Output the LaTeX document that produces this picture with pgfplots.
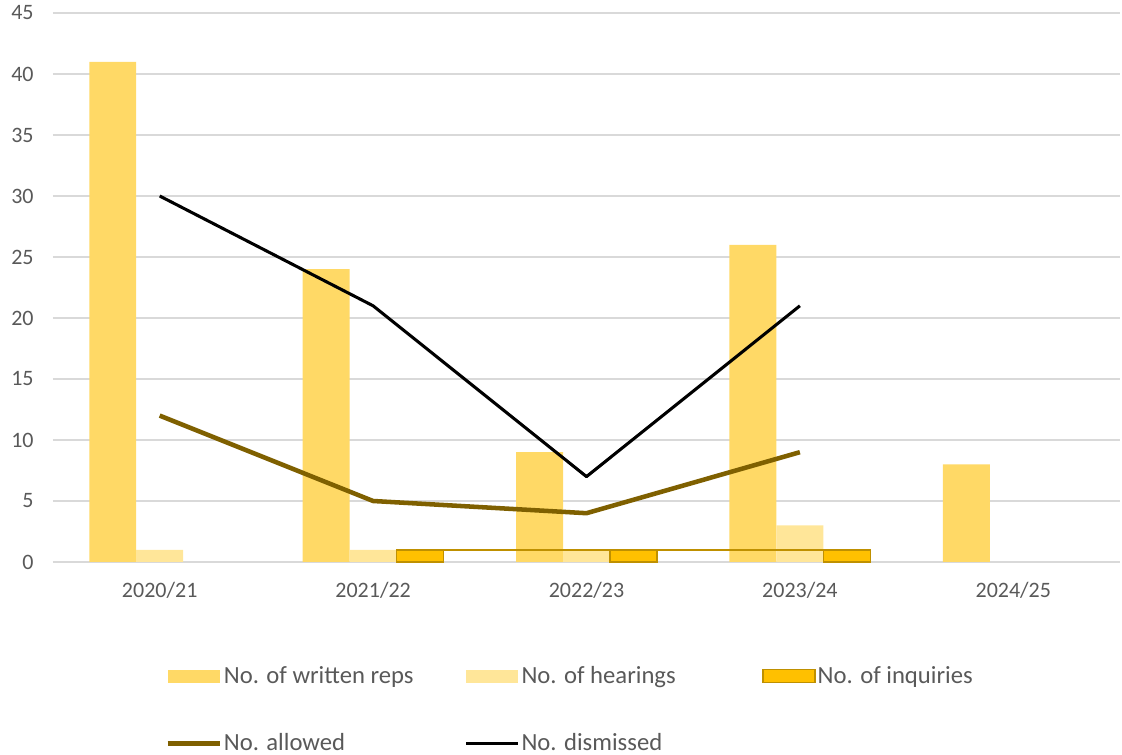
\documentclass[border=0pt]{standalone}
\usepackage{fontspec}
\setmainfont{Carlito}
\usepackage{pgfplots}
\pgfplotsset{compat=1.18}
\definecolor{txt}{HTML}{595959}
\definecolor{gridc}{HTML}{D9D9D9}
\definecolor{wr}{HTML}{FFD966}
\definecolor{hr}{HTML}{FFE699}
\definecolor{inq}{HTML}{FFC000}
\definecolor{inqd}{HTML}{BF9000}
\definecolor{allowed}{HTML}{7F6000}
\pgfplotsset{
  myfillleg/.style={legend image code/.code={\fill[fill=#1] (0pt,-4.875pt) rectangle (39pt,4.875pt);}},
  myinqleg/.style={legend image code/.code={\draw[fill=inq, draw=inqd, line width=1.1pt] (0pt,-4.875pt) rectangle (39pt,4.875pt);}},
  mylineleg/.style={legend image code/.code={\draw[##1] (0pt,0pt) -- (39pt,0pt);}},
}
\begin{document}
\begin{tikzpicture}
\useasboundingbox (-39.75pt,-144.75pt) rectangle (801.75pt,421.5pt);
\begin{axis}[
  at={(0,0)}, anchor=south west,
  scale only axis, width=800.25pt, height=411.75pt,
  xmin=-0.5, xmax=4.5, ymin=0, ymax=45,
  ytick={0,5,...,45},
  xtick={0,1,2,3,4},
  xticklabels={2020/21,2021/22,2022/23,2023/24,2024/25},
  axis line style={draw=none},
  major tick length=0pt,
  ymajorgrids, grid style={draw=gridc, line width=1.1pt},
  /pgf/number format/assume math mode=true,
  tick label style={font=\fontsize{16.5}{20}\selectfont, text=txt},
  yticklabel style={xshift=-11pt},
  xticklabel style={yshift=-12pt},
  clip=false,
  legend columns=3,
  legend cell align=left,
  legend style={at={(0.105,-0.19)}, anchor=north west, draw=none, fill=none,
    inner sep=0pt, font=\fontsize{18.5}{22}\selectfont, text=txt,
    row sep=36pt, column sep=0pt, nodes={inner xsep=1.5pt, inner ysep=0pt}},
]
\addplot[ybar, bar width=0.22, bar shift=-0.22, fill=wr, draw=none, myfillleg=wr]
  coordinates {(0,41) (1,24) (2,9) (3,26) (4,8)};
\addlegendentry{\makebox[179pt][l]{No. of written reps}}
\addplot[ybar, bar width=0.22, bar shift=0, fill=hr, draw=none, myfillleg=hr]
  coordinates {(0,1) (1,1) (2,1) (3,3)};
\addlegendentry{\makebox[179pt][l]{No. of hearings}}
\addplot[ybar, bar width=0.22, bar shift=0.22, fill=inq, draw=inqd, line width=1.1pt, myinqleg]
  coordinates {(1,1) (2,1) (3,1)};
\addlegendentry{No. of inquiries}
\addplot[forget plot, draw=inqd, line width=1.3pt] coordinates {(1.11,1) (3.33,1)};
\addplot[draw=allowed, line width=3.4pt, line join=round, mylineleg]
  coordinates {(0,12) (1,5) (2,4) (3,9)};
\addlegendentry{\makebox[179pt][l]{No. allowed}}
\addplot[draw=black, line width=2.3pt, line join=round, mylineleg]
  coordinates {(0,30) (1,21) (2,7) (3,21)};
\addlegendentry{No. dismissed}
\end{axis}
\end{tikzpicture}
\end{document}
